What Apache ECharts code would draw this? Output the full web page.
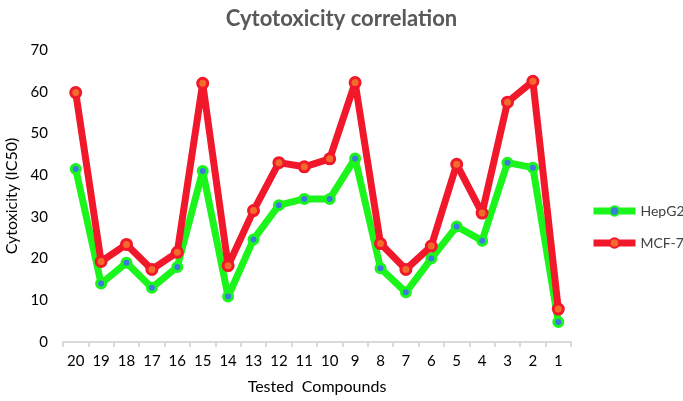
<!DOCTYPE html>
<html><head><meta charset="utf-8">
<script src="https://cdn.jsdelivr.net/npm/echarts@6/dist/echarts.min.js"></script>
<style>html,body{margin:0;padding:0;background:#fff}#c{width:683px;height:401px}</style>
</head><body><div id="c"></div>
<script>
const categories = ['20','19','18','17','16','15','14','13','12','11','10','9','8','7','6','5','4','3','2','1'];
const hepg2 = [41.5,14.0,19.0,13.0,18.0,41.0,10.9,24.6,32.8,34.3,34.3,44.0,17.7,11.9,20.0,27.7,24.3,43.0,41.8,4.8];
const mcf7 = [59.8,19.3,23.4,17.4,21.5,62.0,18.3,31.5,43.0,42.0,43.9,62.2,23.6,17.4,23.0,42.6,30.9,57.5,62.5,7.9];
const yTicks = {min:0, max:70, interval:10};

const chart = echarts.init(document.getElementById('c'), null, {renderer:'canvas'});
const font = 'Lato, Open Sans, sans-serif';
chart.setOption({
  animation:false,
  title:{text:'Cytotoxicity correlation', left:'center', top:3,
    textStyle:{fontFamily:font, fontSize:22, fontWeight:'bold', color:'#595959'}},
  grid:{left:63, right:112, top:50, bottom:59, outerBoundsMode:'none', containLabel:false},
  legend:{orient:'vertical', left:590, top:204, padding:0, itemWidth:42, itemHeight:12, itemGap:18,
    lineStyle:{width:7},
    textStyle:{fontFamily:font, fontSize:14, color:'#404040'},
    data:['HepG2','MCF-7']},
  xAxis:{type:'category', data:categories, boundaryGap:true,
    name:'Tested  Compounds', nameLocation:'middle', nameGap:37,
    nameTextStyle:{fontFamily:font, fontSize:16, color:'#000'},
    axisLine:{lineStyle:{color:'#d9d9d9', width:2}},
    axisTick:{show:true, length:5, lineStyle:{color:'#d9d9d9', width:2}},
    axisLabel:{fontFamily:font, fontSize:15, color:'#000', margin:12}},
  yAxis:{type:'value', min:yTicks.min, max:yTicks.max, interval:yTicks.interval,
    name:'Cytoxicity (IC50)', nameLocation:'middle', nameGap:40,
    nameTextStyle:{fontFamily:font, fontSize:16, color:'#000'},
    axisLine:{show:false}, axisTick:{show:false}, splitLine:{show:false},
    axisLabel:{fontFamily:font, fontSize:15, color:'#000', margin:15}},
  series:[
    {name:'HepG2', type:'line', data:hepg2, symbol:'circle', symbolSize:9,
     lineStyle:{color:'#1cf51c', width:7}, itemStyle:{color:'#3b7be0', borderColor:'#1cf51c', borderWidth:3}, z:2},
    {name:'MCF-7', type:'line', data:mcf7, symbol:'circle', symbolSize:10,
     lineStyle:{color:'#f0182a', width:7}, itemStyle:{color:'#f26b2b', borderColor:'#f0182a', borderWidth:3}, z:3}
  ]
});
</script></body></html>
